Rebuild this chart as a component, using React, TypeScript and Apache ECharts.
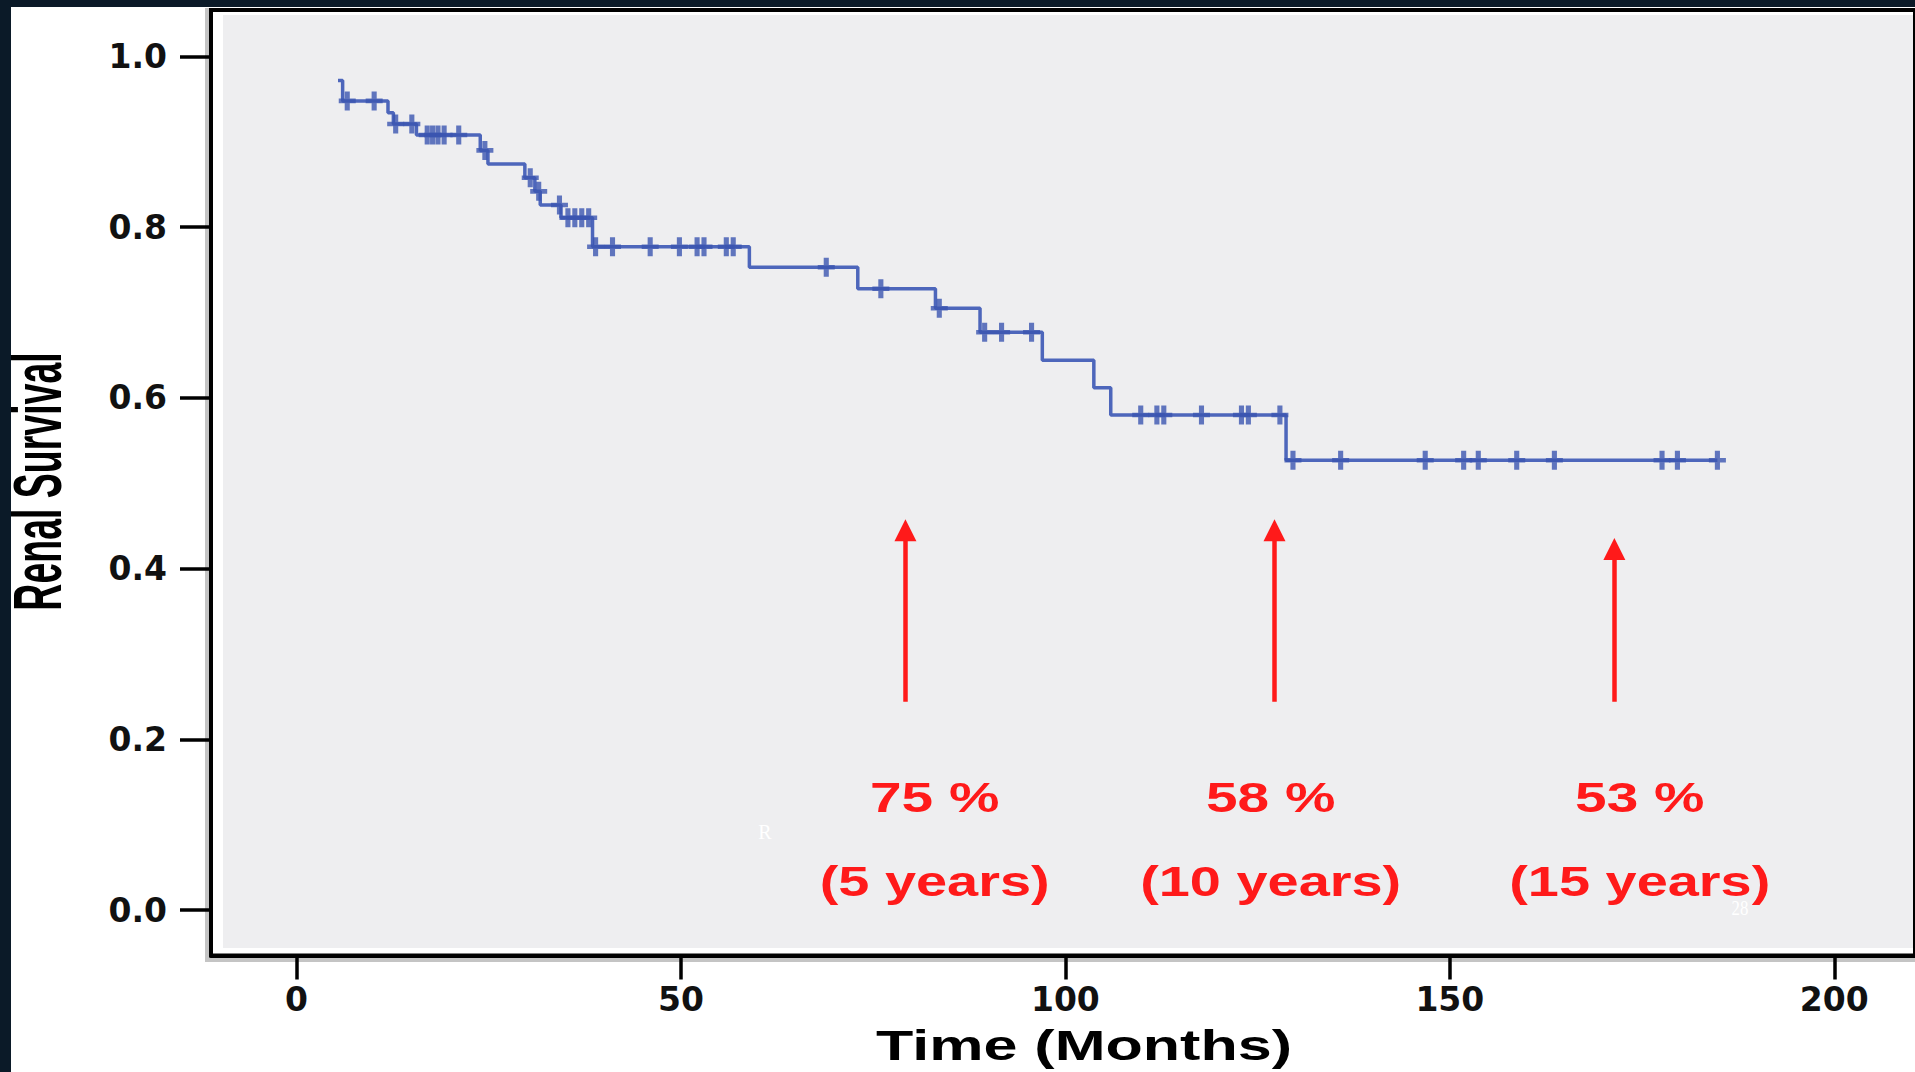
import React, { useEffect, useRef } from "react";
import * as echarts from "echarts";

// ---- Kaplan-Meier data ----
const eventMonths = [5.4, 6.0, 11.9, 12.6, 15.6, 23.9, 24.9, 29.7, 31.0, 31.7, 34.4, 38.5, 58.9, 73.0, 83.1, 88.9, 97.0, 103.7, 105.9, 128.7];
const eventSurvival = [0.972, 0.948, 0.934, 0.921, 0.908, 0.890, 0.874, 0.858, 0.842, 0.826, 0.811, 0.777, 0.753, 0.728, 0.705, 0.677, 0.644, 0.612, 0.580, 0.527];
const lastFollowUp = 184.8;
const censorMonths = [
  6.6, 10.1, 12.9, 15.0, 17.0, 17.7, 18.4, 19.2, 21.1, 24.5, 30.4, 31.5, 34.2, 35.3, 36.2, 37.1, 38.0,
  38.9, 41.1, 46.0, 49.8, 52.1, 53.0, 55.9, 56.8, 68.9, 76.0, 83.6, 89.5, 91.7, 95.6, 109.8, 111.9,
  112.8, 117.7, 122.9, 123.8, 127.9, 129.6, 135.8, 146.8, 151.8, 153.7, 158.7, 163.6, 177.6, 179.6, 184.8,
];

// ---- axes ----
const xTicks = [0, 50, 100, 150, 200];
const yTicks = [0, 0.2, 0.4, 0.6, 0.8, 1.0];
const xAxisTitle = "Time (Months)";
const yAxisTitle = "Renal Survival";

// ---- annotations ----
const arrowMonths = [79.2, 127.2, 171.4];
const arrowBase = [0.244, 0.244, 0.244];
const arrowTip = [0.445, 0.445, 0.423];
const rateLabels = ["75 %", "58 %", "53 %"];
const yearLabels = ["(5 years)", "(10 years)", "(15 years)"];
const labelMonths = [83.0, 126.7, 174.7];
const rateLabelLevel = 0.132;
const yearLabelLevel = 0.034;

function survivalAt(m: number): number {
  let s = eventSurvival[0];
  for (let i = 0; i < eventMonths.length; i++) {
    if (eventMonths[i] <= m) s = eventSurvival[i];
  }
  return s;
}

const RED = "#ff1a1a";
const PLUS = "path://M3.5,0 L6.5,0 L6.5,3.8 L10,3.8 L10,6.2 L6.5,6.2 L6.5,10 L3.5,10 L3.5,6.2 L0,6.2 L0,3.8 L3.5,3.8 Z";

export default function App() {
  const ref = useRef<HTMLDivElement>(null);

  useEffect(() => {
    if (!ref.current) return;
    const chart = echarts.init(ref.current, undefined, { renderer: "svg" });

    const curve = eventMonths.map((m, i) => [m, eventSurvival[i]]);
    curve.push([lastFollowUp, eventSurvival[eventSurvival.length - 1]]);
    const censors = censorMonths.map((m) => [m, survivalAt(m)]);

    const tickFont = {
      fontFamily: "DejaVu Sans",
      fontWeight: "bold" as const,
      fontSize: 33,
      color: "#111",
    };

    chart.setOption({
      animation: false,
      backgroundColor: "#0b1a28",
      grid: {
        left: 211,
        top: 10,
        right: -10,
        bottom: 116.5,
        show: true,
        borderColor: "#000",
        borderWidth: 4,
        backgroundColor: "transparent",
      },
      xAxis: {
        type: "value",
        position: "bottom",
        min: -11.12,
        max: 210.5,
        axisLine: { show: true, onZero: false, lineStyle: { color: "#000", width: 4 } },
        axisTick: { show: true, inside: false, length: 24, customValues: xTicks, lineStyle: { color: "#000", width: 3.5 } },
        axisLabel: { ...tickFont, margin: 27, customValues: xTicks, formatter: (v: number) => String(v) },
        splitLine: { show: false },
      },
      yAxis: {
        type: "value",
        position: "left",
        min: -0.0533,
        max: 1.0545,
        axisLine: { show: true, onZero: false, lineStyle: { color: "#000", width: 4 } },
        axisTick: { show: true, inside: false, length: 31, customValues: yTicks, lineStyle: { color: "#000", width: 3.5 } },
        axisLabel: { ...tickFont, margin: 44, customValues: yTicks, formatter: (v: number) => v.toFixed(1) },
        splitLine: { show: false },
      },
      series: [
        {
          type: "line",
          name: "Survival",
          data: curve,
          step: "end",
          showSymbol: false,
          silent: true,
          lineStyle: { color: "#4d66bb", width: 3.5 },
          z: 3,
          markLine: {
            silent: true,
            symbol: ["none", "triangle"],
            symbolSize: 22,
            label: { show: false },
            lineStyle: { color: RED, width: 4.5, type: "solid" },
            itemStyle: { color: RED },
            emphasis: { disabled: true },
            data: arrowMonths.map((m, i) => [
              { coord: [m, arrowBase[i]] },
              { coord: [m, arrowTip[i]] },
            ]),
          },
        },
        {
          type: "scatter",
          name: "Censored",
          data: censors,
          symbol: PLUS,
          symbolSize: [17, 19],
          silent: true,
          itemStyle: { color: "#3b55b0" },
          z: 4,
        },
      ],
      graphic: [
        { id: "white", type: "rect", z: -3, silent: true, shape: { x: 11, y: 7, width: 1904, height: 1065 }, style: { fill: "#ffffff" } },
        { id: "plotbg", type: "rect", z: -1, silent: true, shape: { x: 223, y: 15, width: 1700, height: 933 }, style: { fill: "#eeeef0" } },
        { id: "shadeL", type: "rect", z: -1, silent: true, shape: { x: 205, y: 8, width: 4, height: 952 }, style: { fill: "#c4c4c4" } },
        { id: "shadeB", type: "rect", z: -1, silent: true, shape: { x: 205, y: 958, width: 1710, height: 4 }, style: { fill: "#c4c4c4" } },
        {
          id: "ytitle",
          type: "text",
          x: 37.5,
          y: 481.5,
          rotation: Math.PI / 2,
          scaleX: 1,
          scaleY: 1.85,
          silent: true,
          style: {
            text: yAxisTitle,
            font: "bold 37.5px 'Liberation Sans', Arial, sans-serif",
            fill: "#000",
            align: "center",
            verticalAlign: "middle",
            textAlign: "center",
            textVerticalAlign: "middle",
          },
        },
        {
          id: "xtitle",
          type: "text",
          x: 1084,
          y: 1045,
          scaleX: 1.42,
          scaleY: 1,
          silent: true,
          style: {
            text: xAxisTitle,
            font: "bold 43px 'Liberation Sans', Arial, sans-serif",
            fill: "#000",
            align: "center",
            verticalAlign: "middle",
            textAlign: "center",
            textVerticalAlign: "middle",
          },
        },
        {
          id: "artR",
          type: "text",
          x: 765,
          y: 832,
          silent: true,
          style: { text: "R", font: "20px 'Liberation Serif', serif", fill: "#ffffff", align: "center", verticalAlign: "middle", textAlign: "center", textVerticalAlign: "middle" },
        },
        {
          id: "art28",
          type: "text",
          x: 1740,
          y: 908,
          scaleX: 0.8,
          silent: true,
          style: { text: "28", font: "21px 'Liberation Serif', serif", fill: "#ffffff", align: "center", verticalAlign: "middle", textAlign: "center", textVerticalAlign: "middle" },
        },
      ],
    });

    const annotationTexts: any[] = [];
    labelMonths.forEach((m, i) => {
      const p1 = chart.convertToPixel({ gridIndex: 0 }, [m, rateLabelLevel]) as number[];
      const p2 = chart.convertToPixel({ gridIndex: 0 }, [m, yearLabelLevel]) as number[];
      const style = (text: string) => ({
        text,
        font: "bold 43px 'Liberation Sans', Arial, sans-serif",
        fill: RED,
        align: "center",
        verticalAlign: "middle",
        textAlign: "center",
        textVerticalAlign: "middle",
      });
      annotationTexts.push({ id: "rate" + i, type: "text", x: p1[0], y: p1[1], scaleX: 1.32, silent: true, style: style(rateLabels[i]) });
      annotationTexts.push({ id: "year" + i, type: "text", x: p2[0], y: p2[1], scaleX: 1.3, silent: true, style: style(yearLabels[i]) });
    });
    chart.setOption({ graphic: annotationTexts });

    return () => {
      chart.dispose();
    };
  }, []);

  return (
    <div
      ref={ref}
      style={{ position: "fixed", left: 0, top: 0, width: 1915, height: 1072 }}
    />
  );
}
